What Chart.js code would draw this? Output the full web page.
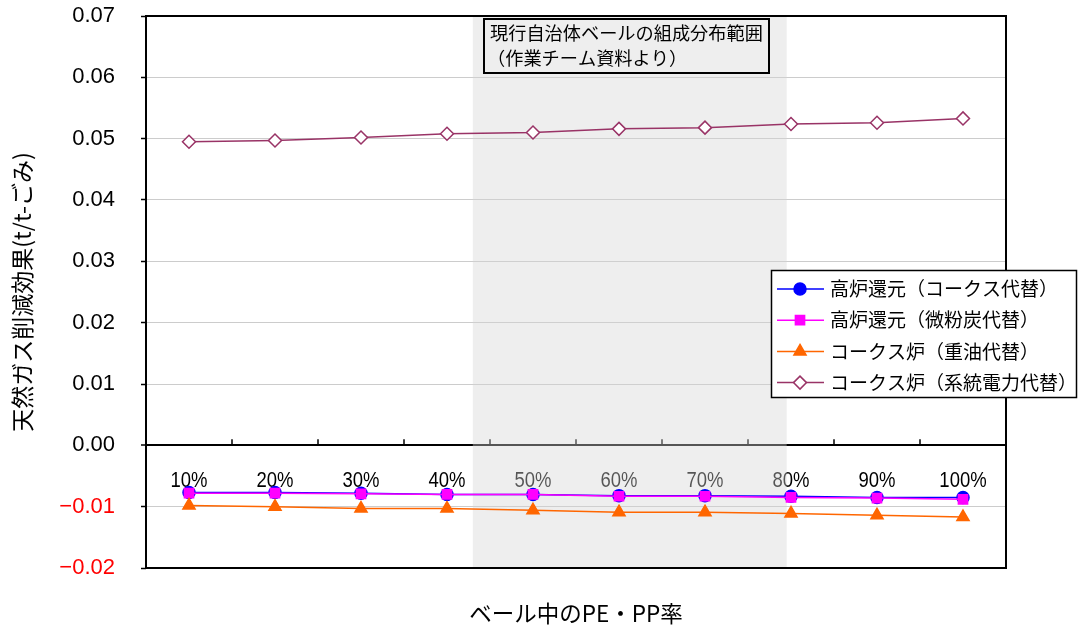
<!DOCTYPE html>
<html>
<head>
<meta charset="utf-8">
<script src="https://cdn.jsdelivr.net/npm/chart.js@4.4.1/dist/chart.umd.min.js"></script>
<style>
  html, body { margin: 0; padding: 0; background: #fff; }
  canvas { display: block; }
</style>
</head>
<body>
<canvas id="chart" width="1080" height="633"></canvas>
<script>
// PE・PP share in bale (categories)
const ratioLabels = ['10%', '20%', '30%', '40%', '50%', '60%', '70%', '80%', '90%', '100%'];

// Natural gas reduction effect (t / t-waste) per use route
const blastCokeSub  = [-0.0077, -0.0077, -0.0078, -0.0080, -0.0080, -0.0082, -0.0082, -0.0083, -0.0085, -0.0085];
const blastPciSub   = [-0.0078, -0.0078, -0.0079, -0.0080, -0.0080, -0.0083, -0.0083, -0.0085, -0.0086, -0.0088];
const ovenOilSub    = [-0.0098, -0.0100, -0.0103, -0.0103, -0.0106, -0.0109, -0.0109, -0.0111, -0.0114, -0.0117];
const ovenPowerSub  = [0.0495, 0.0497, 0.0502, 0.0508, 0.0510, 0.0516, 0.0518, 0.0524, 0.0526, 0.0533];

const seriesNames = [
  '高炉還元（コークス代替）',
  '高炉還元（微粉炭代替）',
  'コークス炉（重油代替）',
  'コークス炉（系統電力代替）'
];

// Value axis range
const yMin = -0.02;
const yMax = 0.07;
const yStep = 0.01;

// Composition range of current municipal bales (PE・PP %)
const baleRangePct = [43, 79.5];
const baleRangeNote = ['現行自治体ベールの組成分布範囲', '（作業チーム資料より）'];

const yTitle = '天然ガス削減効果(t/t-ごみ)';
const xTitle = 'ベール中のPE・PP率';

const JP = "'Noto Sans CJK JP', 'Noto Sans', sans-serif";
const NUM = "'Liberation Sans', Arial, sans-serif";

function drawMarker(ctx, ds, x, y) {
  ctx.save();
  ctx.fillStyle = ds.pointBackgroundColor;
  ctx.strokeStyle = ds.pointBorderColor;
  ctx.lineWidth = ds.pointBorderWidth;
  Chart.helpers.drawPoint(ctx, {
    pointStyle: ds.pointStyle, rotation: 0,
    radius: ds.pointRadius, borderWidth: ds.pointBorderWidth
  }, x, y);
  ctx.restore();
}

const decorations = {
  id: 'decorations',
  beforeDatasetsDraw(chart) {
    const { ctx, chartArea: a, scales: { x, y } } = chart;
    const y0 = y.getPixelForValue(0);
    ctx.save();

    // tick marks between categories, rising from the zero line
    ctx.strokeStyle = '#000';
    ctx.lineWidth = 1.5;
    for (let i = 1; i < ratioLabels.length; i++) {
      const px = Math.round(x.getPixelForValue(i - 0.5));
      ctx.beginPath();
      ctx.moveTo(px, y0);
      ctx.lineTo(px, y0 - 6);
      ctx.stroke();
    }

    // category labels just under the zero line
    ctx.fillStyle = '#000';
    ctx.font = `21.5px ${NUM}`;
    ctx.textAlign = 'center';
    ctx.textBaseline = 'middle';
    ratioLabels.forEach((t, i) => {
      ctx.save();
      ctx.translate(x.getPixelForValue(i), y0 + 36);
      ctx.scale(0.86, 1);
      ctx.fillText(t, 0, 0);
      ctx.restore();
    });

    // shaded composition range
    const toIdx = p => (p - 10) / 10;
    const xl = x.getPixelForValue(toIdx(baleRangePct[0]));
    const xr = x.getPixelForValue(toIdx(baleRangePct[1]));
    ctx.fillStyle = 'rgba(212,212,212,0.4)';
    ctx.fillRect(xl, a.top, xr - xl, a.bottom - a.top);

    // plot frame
    ctx.strokeStyle = '#000';
    ctx.lineWidth = 2;
    ctx.strokeRect(a.left, a.top, a.right - a.left, a.bottom - a.top);
    ctx.restore();
  },
  afterDraw(chart) {
    const { ctx, chartArea: a, scales: { x } } = chart;
    ctx.save();

    // note box for the shaded range
    const toIdx = p => (p - 10) / 10;
    const bx = Math.round(x.getPixelForValue(toIdx(baleRangePct[0]))) + 11;
    const by = a.top + 3;
    ctx.fillStyle = '#eeeeee';
    ctx.fillRect(bx, by, 285, 54);
    ctx.strokeStyle = '#000';
    ctx.lineWidth = 2;
    ctx.strokeRect(bx, by, 285, 54);
    ctx.fillStyle = '#000';
    ctx.font = `18.2px ${JP}`;
    ctx.textAlign = 'left';
    ctx.textBaseline = 'middle';
    ctx.fillText(baleRangeNote[0], bx + 6, by + 14);
    ctx.fillText(baleRangeNote[1], bx + 3, by + 39);

    // legend
    const lx = 771, ly = 270, lw = 305, lh = 127;
    ctx.fillStyle = '#fff';
    ctx.fillRect(lx, ly, lw, lh);
    ctx.strokeStyle = '#000';
    ctx.lineWidth = 1.5;
    ctx.strokeRect(lx + 0.5, ly + 0.5, lw, lh);
    chart.data.datasets.forEach((ds, i) => {
      const ry = ly + 19 + i * 31.2;
      ctx.strokeStyle = ds.borderColor;
      ctx.lineWidth = ds.borderWidth;
      ctx.beginPath();
      ctx.moveTo(lx + 6, ry);
      ctx.lineTo(lx + 53, ry);
      ctx.stroke();
      drawMarker(ctx, ds, lx + 29, ry);
      ctx.fillStyle = '#000';
      ctx.font = `19px ${JP}`;
      ctx.textAlign = 'left';
      ctx.textBaseline = 'middle';
      ctx.fillText(ds.label, lx + 59, ry);
    });
    ctx.restore();
  }
};

function series(label, data, color, style, radius, fill, order) {
  return {
    label, data, order,
    borderColor: color, borderWidth: 1.5,
    pointStyle: style, pointRadius: radius, pointHoverRadius: radius,
    pointBackgroundColor: fill, pointBorderColor: color, pointBorderWidth: 1.5,
    tension: 0, fill: false
  };
}

new Chart(document.getElementById('chart'), {
  type: 'line',
  data: {
    labels: ratioLabels,
    datasets: [
      series(seriesNames[0], blastCokeSub, '#0000ff', 'circle', 6, '#0000ff', 3),
      series(seriesNames[1], blastPciSub, '#ff00ff', 'rect', 6.5, '#ff00ff', 2),
      series(seriesNames[2], ovenOilSub, '#ff6600', 'triangle', 7, '#ff6600', 1),
      series(seriesNames[3], ovenPowerSub, '#993366', 'rectRot', 6.5, '#ffffff', 0)
    ]
  },
  options: {
    responsive: false,
    animation: false,
    events: [],
    layout: { padding: { left: 0, top: 16, right: 74, bottom: 0 } },
    plugins: { legend: { display: false }, tooltip: { enabled: false } },
    scales: {
      x: {
        offset: true,
        grid: { display: false },
        border: { display: false },
        ticks: { display: false },
        title: {
          display: true, text: xTitle, color: '#000',
          font: { family: JP, size: 22.5 }, padding: { top: 0, bottom: 6 }
        },
        afterFit(scale) { scale.height = 65; }
      },
      y: {
        min: yMin, max: yMax,
        border: { display: false },
        grid: {
          color: c => Math.abs(c.tick.value) < 1e-9 ? '#000' : '#cccccc',
          lineWidth: c => Math.abs(c.tick.value) < 1e-9 ? 2 : 1,
          drawTicks: true, tickLength: 5, tickColor: '#000', tickWidth: 1.5
        },
        ticks: {
          stepSize: yStep,
          padding: 26,
          color: c => c.tick.value < -1e-9 ? '#ff0000' : '#000',
          font: { family: NUM, size: 22 },
          callback: v => (v < -1e-9 ? '\u2212' + Math.abs(v).toFixed(2) : Math.abs(v).toFixed(2))
        },
        title: {
          display: true, text: yTitle, color: '#000',
          font: { family: JP, size: 23 }, padding: { top: 8, bottom: 0 }
        },
        afterFit(scale) {
          scale.width = 146;
          // keep the plot top fixed by the layout padding only
          scale.paddingTop = 0;
          scale.paddingBottom = 0;
        }
      }
    }
  },
  plugins: [decorations]
});
</script>
</body>
</html>
